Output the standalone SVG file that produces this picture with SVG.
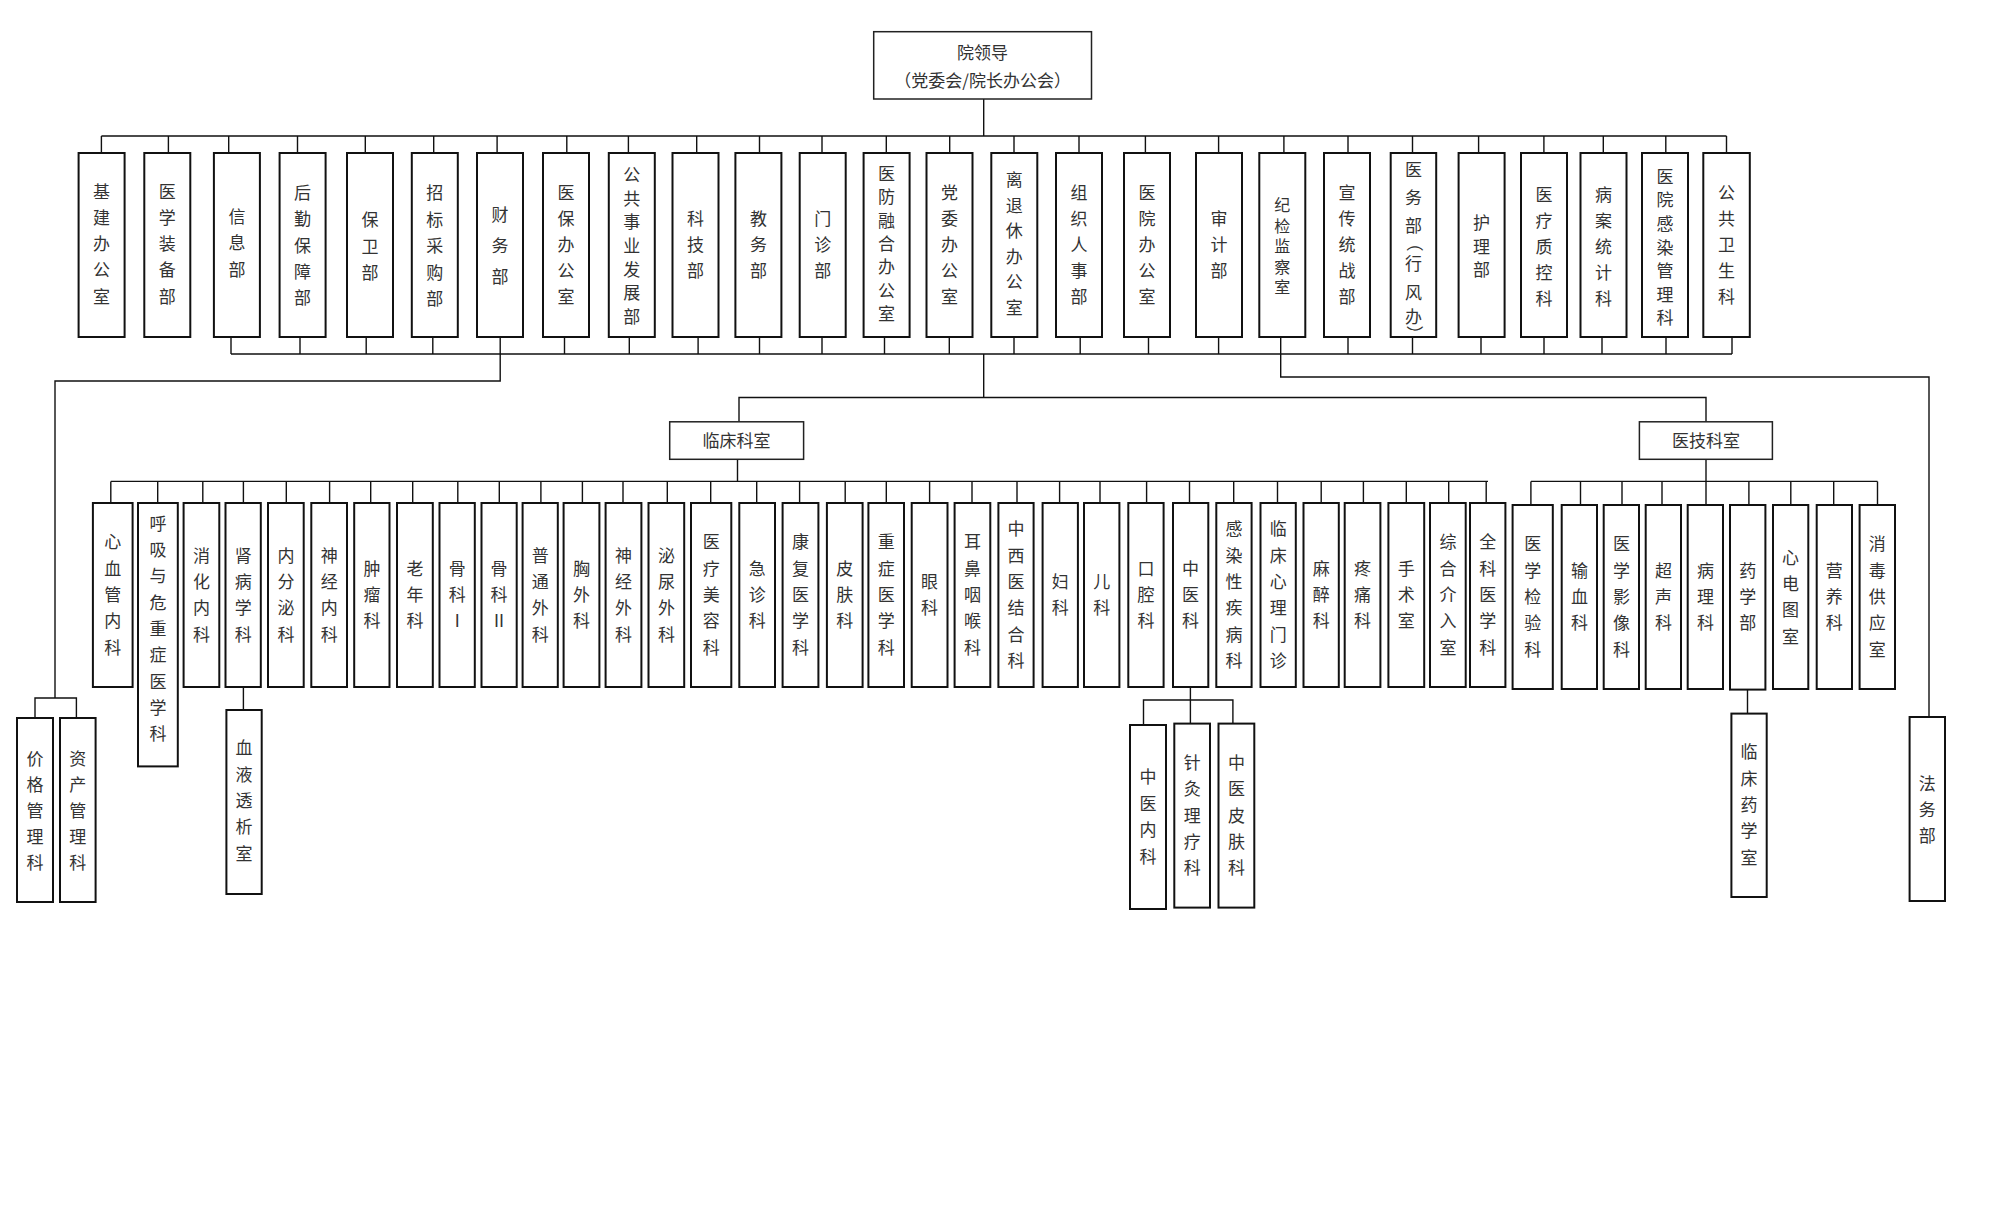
<svg xmlns="http://www.w3.org/2000/svg" width="2000" height="1210" viewBox="0 0 2000 1210">
<style>
.bx{fill:#fff;stroke:#111;stroke-width:2}
.hb{fill:#fff;stroke:#222;stroke-width:1.5}
.cn{fill:none;stroke:#111;stroke-width:1.4}
.t{font-family:"Noto Sans CJK SC","Noto Sans CJK TC",sans-serif;font-size:17px;font-weight:400;fill:#333;text-anchor:middle}
</style>
<rect width="2000" height="1210" fill="#fff"/>
<g id="connectors">
<path class="cn" d="M983.7 99V136M101.4 136H1726.5
M101.4 136V153M168.4 136V153M228.7 136V153M297.5 136V153M365.3 136V153M433.7 136V153M497.1 136V153M566.8 136V153M628.4 136V153M696.7 136V153M759.5 136V153M822 136V153M886.3 136V153M949.7 136V153M1014 136V153M1079 136V153M1145.4 136V153M1218.6 136V153M1283.9 136V153M1348 136V153M1412.5 136V153M1478.6 136V153M1543.9 136V153M1603.3 136V153M1665.8 136V153M1726.5 136V153
M231 354H1732M231 337V354M300 337V354M366.2 337V354M432.8 337V354M564.5 337V354M629.3 337V354M698.1 337V354M759.5 337V354M822 337V354M884.5 337V354M949.3 337V354M1014 337V354M1080.2 337V354M1148.5 337V354M1218.6 337V354M1348 337V354M1412.5 337V354M1481 337V354M1544 337V354M1602 337V354M1666 337V354M1732 337V354
M500.2 337V381H55V698M35 718V698H76.4V718
M1280.7 337V377H1929V717
M983.7 354V397.5M739 421.8V397.5H1706V421.8
M737.5 459.3V481.4M110.8 481.4H1488
M110.8 481.4V503M157.7 481.4V503M202.8 481.4V503M243.4 481.4V503M286.3 481.4V503M329.6 481.4V503M370.7 481.4V503M412.7 481.4V503M457.8 481.4V503M499.3 481.4V503M540.9 481.4V503M582.4 481.4V503M623 481.4V503M667.3 481.4V503M710.7 481.4V503M756.7 481.4V503M799.6 481.4V503M845.2 481.4V503M886.3 481.4V503M929.6 481.4V503M972 481.4V503M1017 481.4V503M1059.6 481.4V503M1100 481.4V503M1146.6 481.4V503M1189.5 481.4V503M1233.7 481.4V503M1277.5 481.4V503M1321.2 481.4V503M1363.4 481.4V503M1406.3 481.4V503M1448.7 481.4V503M1486.2 481.4V503
M1706 459.3V505M1530.9 481.4H1877.5M1530.9 481.4V505M1580.5 481.4V505M1622 481.4V505M1662 481.4V505M1748.9 481.4V505M1790.8 481.4V505M1833.7 481.4V505M1877.5 481.4V505
M243.4 687V710M1190.4 687V723.6M1143.5 725V700H1232.9V723.6M1747.5 689.6V713.6"/>
</g>
<g id="n-top"><rect class="hb" x="873.7" y="31.7" width="217.8" height="67.3"/><text class="t" x="982.6" y="59">院领导</text><text class="t" x="982.6" y="87">（党委会/院长办公会）</text></g>
<g id="n-jijian"><rect class="bx" x="78.6" y="153" width="46" height="184"/><text class="t"><tspan x="101.6" y="197.5">基</tspan><tspan x="101.6" y="223.8">建</tspan><tspan x="101.6" y="250">办</tspan><tspan x="101.6" y="276.3">公</tspan><tspan x="101.6" y="302.5">室</tspan></text></g>
<g id="n-yxzb"><rect class="bx" x="144.3" y="153" width="46" height="184"/><text class="t"><tspan x="167.3" y="197.5">医</tspan><tspan x="167.3" y="223.8">学</tspan><tspan x="167.3" y="250">装</tspan><tspan x="167.3" y="276.3">备</tspan><tspan x="167.3" y="302.5">部</tspan></text></g>
<g id="n-xinxi"><rect class="bx" x="213.9" y="153" width="46" height="184"/><text class="t"><tspan x="236.9" y="222.6">信</tspan><tspan x="236.9" y="249.3">息</tspan><tspan x="236.9" y="276">部</tspan></text></g>
<g id="n-houqin"><rect class="bx" x="279.6" y="153" width="46" height="184"/><text class="t"><tspan x="302.6" y="198.9">后</tspan><tspan x="302.6" y="225.2">勤</tspan><tspan x="302.6" y="251.5">保</tspan><tspan x="302.6" y="277.8">障</tspan><tspan x="302.6" y="304.1">部</tspan></text></g>
<g id="n-baowei"><rect class="bx" x="347" y="153" width="46" height="184"/><text class="t"><tspan x="370" y="226.2">保</tspan><tspan x="370" y="252.7">卫</tspan><tspan x="370" y="279.2">部</tspan></text></g>
<g id="n-zhaobiao"><rect class="bx" x="411.8" y="153" width="46" height="184"/><text class="t"><tspan x="434.8" y="199">招</tspan><tspan x="434.8" y="225.5">标</tspan><tspan x="434.8" y="252">采</tspan><tspan x="434.8" y="278.5">购</tspan><tspan x="434.8" y="305">部</tspan></text></g>
<g id="n-caiwu"><rect class="bx" x="477" y="153" width="46" height="184"/><text class="t"><tspan x="500" y="221">财</tspan><tspan x="500" y="252">务</tspan><tspan x="500" y="283">部</tspan></text></g>
<g id="n-yibao"><rect class="bx" x="543" y="153" width="46" height="184"/><text class="t"><tspan x="566" y="199">医</tspan><tspan x="566" y="225">保</tspan><tspan x="566" y="251">办</tspan><tspan x="566" y="277">公</tspan><tspan x="566" y="303">室</tspan></text></g>
<g id="n-gongshi"><rect class="bx" x="608.8" y="153" width="46" height="184"/><text class="t"><tspan x="631.8" y="181.2">公</tspan><tspan x="631.8" y="204.8">共</tspan><tspan x="631.8" y="228.4">事</tspan><tspan x="631.8" y="252">业</tspan><tspan x="631.8" y="275.6">发</tspan><tspan x="631.8" y="299.2">展</tspan><tspan x="631.8" y="322.8">部</tspan></text></g>
<g id="n-keji"><rect class="bx" x="672.5" y="153" width="46" height="184"/><text class="t"><tspan x="695.5" y="225">科</tspan><tspan x="695.5" y="251">技</tspan><tspan x="695.5" y="277">部</tspan></text></g>
<g id="n-jiaowu"><rect class="bx" x="735.4" y="153" width="46" height="184"/><text class="t"><tspan x="758.4" y="225">教</tspan><tspan x="758.4" y="251">务</tspan><tspan x="758.4" y="277">部</tspan></text></g>
<g id="n-menzhen"><rect class="bx" x="799.7" y="153" width="46" height="184"/><text class="t"><tspan x="822.7" y="225">门</tspan><tspan x="822.7" y="251">诊</tspan><tspan x="822.7" y="277">部</tspan></text></g>
<g id="n-yifang"><rect class="bx" x="863.6" y="153" width="46" height="184"/><text class="t"><tspan x="886.6" y="180.1">医</tspan><tspan x="886.6" y="203.4">防</tspan><tspan x="886.6" y="226.7">融</tspan><tspan x="886.6" y="250">合</tspan><tspan x="886.6" y="273.3">办</tspan><tspan x="886.6" y="296.6">公</tspan><tspan x="886.6" y="319.9">室</tspan></text></g>
<g id="n-dangwei"><rect class="bx" x="926.5" y="153" width="46" height="184"/><text class="t"><tspan x="949.5" y="199">党</tspan><tspan x="949.5" y="225">委</tspan><tspan x="949.5" y="251">办</tspan><tspan x="949.5" y="277">公</tspan><tspan x="949.5" y="303">室</tspan></text></g>
<g id="n-lituixiu"><rect class="bx" x="991.3" y="153" width="46" height="184"/><text class="t"><tspan x="1014.3" y="186">离</tspan><tspan x="1014.3" y="211.6">退</tspan><tspan x="1014.3" y="237.2">休</tspan><tspan x="1014.3" y="262.8">办</tspan><tspan x="1014.3" y="288.4">公</tspan><tspan x="1014.3" y="314">室</tspan></text></g>
<g id="n-zuzhi"><rect class="bx" x="1056" y="153" width="46" height="184"/><text class="t"><tspan x="1079" y="199">组</tspan><tspan x="1079" y="225">织</tspan><tspan x="1079" y="251">人</tspan><tspan x="1079" y="277">事</tspan><tspan x="1079" y="303">部</tspan></text></g>
<g id="n-yiyuanban"><rect class="bx" x="1124" y="153" width="46" height="184"/><text class="t"><tspan x="1147" y="199">医</tspan><tspan x="1147" y="225">院</tspan><tspan x="1147" y="251">办</tspan><tspan x="1147" y="277">公</tspan><tspan x="1147" y="303">室</tspan></text></g>
<g id="n-shenji"><rect class="bx" x="1196" y="153" width="46" height="184"/><text class="t"><tspan x="1219" y="225">审</tspan><tspan x="1219" y="251">计</tspan><tspan x="1219" y="277">部</tspan></text></g>
<g id="n-jijiancha"><rect class="bx" x="1259.3" y="153" width="46" height="184"/><text class="t" style="font-size:16px"><tspan x="1282.3" y="211">纪</tspan><tspan x="1282.3" y="231.5">检</tspan><tspan x="1282.3" y="252">监</tspan><tspan x="1282.3" y="272.5">察</tspan><tspan x="1282.3" y="293">室</tspan></text></g>
<g id="n-xuanchuan"><rect class="bx" x="1324" y="153" width="46" height="184"/><text class="t"><tspan x="1347" y="199">宣</tspan><tspan x="1347" y="225">传</tspan><tspan x="1347" y="251">统</tspan><tspan x="1347" y="277">战</tspan><tspan x="1347" y="303">部</tspan></text></g>
<g id="n-yiwu"><rect class="bx" x="1390.7" y="153" width="45.5" height="184"/><text class="t"><tspan x="1413.5" y="176">医</tspan><tspan x="1413.5" y="204">务</tspan><tspan x="1413.5" y="232">部</tspan></text><text class="t" x="1413.5" y="249" transform="rotate(90 1413.5 243)">（</text><text class="t"><tspan x="1413.5" y="270">行</tspan><tspan x="1413.5" y="299">风</tspan><tspan x="1413.5" y="323">办</tspan></text><text class="t" x="1413.5" y="340" transform="rotate(90 1413.5 334)">）</text></g>
<g id="n-huli"><rect class="bx" x="1458.6" y="153" width="46" height="184"/><text class="t"><tspan x="1481.6" y="229.2">护</tspan><tspan x="1481.6" y="252.7">理</tspan><tspan x="1481.6" y="276.2">部</tspan></text></g>
<g id="n-zhikong"><rect class="bx" x="1521" y="153" width="46" height="184"/><text class="t"><tspan x="1544" y="200.7">医</tspan><tspan x="1544" y="226.7">疗</tspan><tspan x="1544" y="252.7">质</tspan><tspan x="1544" y="278.7">控</tspan><tspan x="1544" y="304.7">科</tspan></text></g>
<g id="n-bingan"><rect class="bx" x="1580.5" y="153" width="46" height="184"/><text class="t"><tspan x="1603.5" y="200.7">病</tspan><tspan x="1603.5" y="226.7">案</tspan><tspan x="1603.5" y="252.7">统</tspan><tspan x="1603.5" y="278.7">计</tspan><tspan x="1603.5" y="304.7">科</tspan></text></g>
<g id="n-ganran"><rect class="bx" x="1642" y="153" width="46" height="184"/><text class="t"><tspan x="1665" y="182.7">医</tspan><tspan x="1665" y="206.3">院</tspan><tspan x="1665" y="229.9">感</tspan><tspan x="1665" y="253.5">染</tspan><tspan x="1665" y="277.1">管</tspan><tspan x="1665" y="300.7">理</tspan><tspan x="1665" y="324.3">科</tspan></text></g>
<g id="n-gongwei"><rect class="bx" x="1703.3" y="153" width="46.5" height="184"/><text class="t"><tspan x="1726.5" y="199">公</tspan><tspan x="1726.5" y="225">共</tspan><tspan x="1726.5" y="251">卫</tspan><tspan x="1726.5" y="277">生</tspan><tspan x="1726.5" y="303">科</tspan></text></g>
<g id="n-jiage"><rect class="bx" x="17" y="718" width="36" height="184"/><text class="t"><tspan x="35" y="765">价</tspan><tspan x="35" y="791">格</tspan><tspan x="35" y="817">管</tspan><tspan x="35" y="843">理</tspan><tspan x="35" y="869">科</tspan></text></g>
<g id="n-zichan"><rect class="bx" x="60" y="718" width="35.6" height="184"/><text class="t"><tspan x="77.8" y="765">资</tspan><tspan x="77.8" y="791">产</tspan><tspan x="77.8" y="817">管</tspan><tspan x="77.8" y="843">理</tspan><tspan x="77.8" y="869">科</tspan></text></g>
<g id="n-fawu"><rect class="bx" x="1909.6" y="717" width="35.4" height="184"/><text class="t"><tspan x="1927.3" y="790">法</tspan><tspan x="1927.3" y="816">务</tspan><tspan x="1927.3" y="842">部</tspan></text></g>
<g id="n-linchuang"><rect class="hb" x="669.7" y="421.8" width="133.9" height="37.5"/><text class="t" x="736.6" y="446.5">临床科室</text></g>
<g id="n-yiji"><rect class="hb" x="1639.4" y="421.8" width="133" height="37.5"/><text class="t" x="1706" y="446.5">医技科室</text></g>
<g id="n-xinxueguan"><rect class="bx" x="92.9" y="503" width="39.7" height="184"/><text class="t"><tspan x="112.8" y="548.4">心</tspan><tspan x="112.8" y="574.7">血</tspan><tspan x="112.8" y="601">管</tspan><tspan x="112.8" y="627.3">内</tspan><tspan x="112.8" y="653.6">科</tspan></text></g>
<g id="n-huxi"><rect class="bx" x="138" y="503" width="39.8" height="263.4"/><text class="t"><tspan x="157.9" y="529.6">呼</tspan><tspan x="157.9" y="555.9">吸</tspan><tspan x="157.9" y="582.3">与</tspan><tspan x="157.9" y="608.6">危</tspan><tspan x="157.9" y="635">重</tspan><tspan x="157.9" y="661.3">症</tspan><tspan x="157.9" y="687.6">医</tspan><tspan x="157.9" y="714">学</tspan><tspan x="157.9" y="740.3">科</tspan></text></g>
<g id="n-xiaohua"><rect class="bx" x="183.6" y="503" width="35.7" height="184"/><text class="t"><tspan x="201.5" y="561.6">消</tspan><tspan x="201.5" y="587.9">化</tspan><tspan x="201.5" y="614.2">内</tspan><tspan x="201.5" y="640.5">科</tspan></text></g>
<g id="n-shenbing"><rect class="bx" x="225.5" y="503" width="35.3" height="184"/><text class="t"><tspan x="243.2" y="561.6">肾</tspan><tspan x="243.2" y="587.9">病</tspan><tspan x="243.2" y="614.2">学</tspan><tspan x="243.2" y="640.5">科</tspan></text></g>
<g id="n-xueye"><rect class="bx" x="226.4" y="710" width="35.3" height="184"/><text class="t"><tspan x="244" y="754.4">血</tspan><tspan x="244" y="780.7">液</tspan><tspan x="244" y="807">透</tspan><tspan x="244" y="833.3">析</tspan><tspan x="244" y="859.6">室</tspan></text></g>
<g id="n-neifenmi"><rect class="bx" x="268" y="503" width="35.7" height="184"/><text class="t"><tspan x="285.9" y="561.6">内</tspan><tspan x="285.9" y="587.9">分</tspan><tspan x="285.9" y="614.2">泌</tspan><tspan x="285.9" y="640.5">科</tspan></text></g>
<g id="n-shenjingnei"><rect class="bx" x="311.3" y="503" width="35.7" height="184"/><text class="t"><tspan x="329.2" y="561.6">神</tspan><tspan x="329.2" y="587.9">经</tspan><tspan x="329.2" y="614.2">内</tspan><tspan x="329.2" y="640.5">科</tspan></text></g>
<g id="n-zhongliu"><rect class="bx" x="354.2" y="503" width="35.3" height="184"/><text class="t"><tspan x="371.9" y="574.7">肿</tspan><tspan x="371.9" y="601">瘤</tspan><tspan x="371.9" y="627.3">科</tspan></text></g>
<g id="n-laonian"><rect class="bx" x="397" y="503" width="35.8" height="184"/><text class="t"><tspan x="414.9" y="574.7">老</tspan><tspan x="414.9" y="601">年</tspan><tspan x="414.9" y="627.3">科</tspan></text></g>
<g id="n-guke1"><rect class="bx" x="439.5" y="503" width="35.3" height="184"/><text class="t"><tspan x="457.2" y="574.7">骨</tspan><tspan x="457.2" y="601">科</tspan><tspan x="457.2" y="627.3">Ⅰ</tspan></text></g>
<g id="n-guke2"><rect class="bx" x="481.5" y="503" width="35.2" height="184"/><text class="t"><tspan x="499.1" y="574.7">骨</tspan><tspan x="499.1" y="601">科</tspan><tspan x="499.1" y="627.3">Ⅱ</tspan></text></g>
<g id="n-putong"><rect class="bx" x="522.6" y="503" width="35.2" height="184"/><text class="t"><tspan x="540.2" y="561.6">普</tspan><tspan x="540.2" y="587.9">通</tspan><tspan x="540.2" y="614.2">外</tspan><tspan x="540.2" y="640.5">科</tspan></text></g>
<g id="n-xiongwai"><rect class="bx" x="563.6" y="503" width="35.8" height="184"/><text class="t"><tspan x="581.5" y="574.7">胸</tspan><tspan x="581.5" y="601">外</tspan><tspan x="581.5" y="627.3">科</tspan></text></g>
<g id="n-shenjingwai"><rect class="bx" x="605.6" y="503" width="35.8" height="184"/><text class="t"><tspan x="623.5" y="561.6">神</tspan><tspan x="623.5" y="587.9">经</tspan><tspan x="623.5" y="614.2">外</tspan><tspan x="623.5" y="640.5">科</tspan></text></g>
<g id="n-miniao"><rect class="bx" x="648.5" y="503" width="35.7" height="184"/><text class="t"><tspan x="666.4" y="561.6">泌</tspan><tspan x="666.4" y="587.9">尿</tspan><tspan x="666.4" y="614.2">外</tspan><tspan x="666.4" y="640.5">科</tspan></text></g>
<g id="n-meirong"><rect class="bx" x="691" y="503" width="40.3" height="184"/><text class="t"><tspan x="711.2" y="548.4">医</tspan><tspan x="711.2" y="574.7">疗</tspan><tspan x="711.2" y="601">美</tspan><tspan x="711.2" y="627.3">容</tspan><tspan x="711.2" y="653.6">科</tspan></text></g>
<g id="n-jizhen"><rect class="bx" x="739.3" y="503" width="35.7" height="184"/><text class="t"><tspan x="757.2" y="574.7">急</tspan><tspan x="757.2" y="601">诊</tspan><tspan x="757.2" y="627.3">科</tspan></text></g>
<g id="n-kangfu"><rect class="bx" x="782.6" y="503" width="35.8" height="184"/><text class="t"><tspan x="800.5" y="548.4">康</tspan><tspan x="800.5" y="574.7">复</tspan><tspan x="800.5" y="601">医</tspan><tspan x="800.5" y="627.3">学</tspan><tspan x="800.5" y="653.6">科</tspan></text></g>
<g id="n-pifu"><rect class="bx" x="826.9" y="503" width="35.7" height="184"/><text class="t"><tspan x="844.8" y="574.7">皮</tspan><tspan x="844.8" y="601">肤</tspan><tspan x="844.8" y="627.3">科</tspan></text></g>
<g id="n-zhongzheng"><rect class="bx" x="868.4" y="503" width="35.6" height="184"/><text class="t"><tspan x="886.2" y="548.4">重</tspan><tspan x="886.2" y="574.7">症</tspan><tspan x="886.2" y="601">医</tspan><tspan x="886.2" y="627.3">学</tspan><tspan x="886.2" y="653.6">科</tspan></text></g>
<g id="n-yanke"><rect class="bx" x="911.7" y="503" width="35.8" height="184"/><text class="t"><tspan x="929.6" y="587.9">眼</tspan><tspan x="929.6" y="614.2">科</tspan></text></g>
<g id="n-erbi"><rect class="bx" x="954.6" y="503" width="35.7" height="184"/><text class="t"><tspan x="972.5" y="548.4">耳</tspan><tspan x="972.5" y="574.7">鼻</tspan><tspan x="972.5" y="601">咽</tspan><tspan x="972.5" y="627.3">喉</tspan><tspan x="972.5" y="653.6">科</tspan></text></g>
<g id="n-zhongxi"><rect class="bx" x="998.4" y="503" width="35.2" height="184"/><text class="t"><tspan x="1016" y="535.3">中</tspan><tspan x="1016" y="561.6">西</tspan><tspan x="1016" y="587.9">医</tspan><tspan x="1016" y="614.2">结</tspan><tspan x="1016" y="640.5">合</tspan><tspan x="1016" y="666.8">科</tspan></text></g>
<g id="n-fuke"><rect class="bx" x="1042.6" y="503" width="35.3" height="184"/><text class="t"><tspan x="1060.2" y="587.9">妇</tspan><tspan x="1060.2" y="614.2">科</tspan></text></g>
<g id="n-erke"><rect class="bx" x="1084" y="503" width="35.4" height="184"/><text class="t"><tspan x="1101.7" y="587.9">儿</tspan><tspan x="1101.7" y="614.2">科</tspan></text></g>
<g id="n-kouqiang"><rect class="bx" x="1128.3" y="503" width="35.3" height="184"/><text class="t"><tspan x="1146" y="574.7">口</tspan><tspan x="1146" y="601">腔</tspan><tspan x="1146" y="627.3">科</tspan></text></g>
<g id="n-zhongyi"><rect class="bx" x="1173" y="503" width="35.3" height="184"/><text class="t"><tspan x="1190.6" y="574.7">中</tspan><tspan x="1190.6" y="601">医</tspan><tspan x="1190.6" y="627.3">科</tspan></text></g>
<g id="n-zhongyinei"><rect class="bx" x="1130" y="725" width="36" height="184"/><text class="t"><tspan x="1148" y="783.3">中</tspan><tspan x="1148" y="809.8">医</tspan><tspan x="1148" y="836.3">内</tspan><tspan x="1148" y="862.8">科</tspan></text></g>
<g id="n-zhenjiu"><rect class="bx" x="1174.3" y="723.6" width="35.7" height="184"/><text class="t"><tspan x="1192.2" y="768.9">针</tspan><tspan x="1192.2" y="795.2">灸</tspan><tspan x="1192.2" y="821.5">理</tspan><tspan x="1192.2" y="847.8">疗</tspan><tspan x="1192.2" y="874.1">科</tspan></text></g>
<g id="n-zhongyipifu"><rect class="bx" x="1218.5" y="723.6" width="35.8" height="184"/><text class="t"><tspan x="1236.4" y="768.9">中</tspan><tspan x="1236.4" y="795.2">医</tspan><tspan x="1236.4" y="821.5">皮</tspan><tspan x="1236.4" y="847.8">肤</tspan><tspan x="1236.4" y="874.1">科</tspan></text></g>
<g id="n-ganranxing"><rect class="bx" x="1216.3" y="503" width="35.3" height="184"/><text class="t"><tspan x="1234" y="535.3">感</tspan><tspan x="1234" y="561.6">染</tspan><tspan x="1234" y="587.9">性</tspan><tspan x="1234" y="614.2">疾</tspan><tspan x="1234" y="640.5">病</tspan><tspan x="1234" y="666.8">科</tspan></text></g>
<g id="n-xinli"><rect class="bx" x="1260.5" y="503" width="35.3" height="184"/><text class="t"><tspan x="1278.2" y="535.3">临</tspan><tspan x="1278.2" y="561.6">床</tspan><tspan x="1278.2" y="587.9">心</tspan><tspan x="1278.2" y="614.2">理</tspan><tspan x="1278.2" y="640.5">门</tspan><tspan x="1278.2" y="666.8">诊</tspan></text></g>
<g id="n-mazui"><rect class="bx" x="1303.5" y="503" width="35.3" height="184"/><text class="t"><tspan x="1321.2" y="574.7">麻</tspan><tspan x="1321.2" y="601">醉</tspan><tspan x="1321.2" y="627.3">科</tspan></text></g>
<g id="n-tengtong"><rect class="bx" x="1344.7" y="503" width="35.7" height="184"/><text class="t"><tspan x="1362.6" y="574.7">疼</tspan><tspan x="1362.6" y="601">痛</tspan><tspan x="1362.6" y="627.3">科</tspan></text></g>
<g id="n-shoushu"><rect class="bx" x="1388.4" y="503" width="35.8" height="184"/><text class="t"><tspan x="1406.3" y="574.7">手</tspan><tspan x="1406.3" y="601">术</tspan><tspan x="1406.3" y="627.3">室</tspan></text></g>
<g id="n-jieru"><rect class="bx" x="1430" y="503" width="35.7" height="184"/><text class="t"><tspan x="1447.9" y="548.4">综</tspan><tspan x="1447.9" y="574.7">合</tspan><tspan x="1447.9" y="601">介</tspan><tspan x="1447.9" y="627.3">入</tspan><tspan x="1447.9" y="653.6">室</tspan></text></g>
<g id="n-quanke"><rect class="bx" x="1470" y="503" width="35.4" height="184"/><text class="t"><tspan x="1487.7" y="548.4">全</tspan><tspan x="1487.7" y="574.7">科</tspan><tspan x="1487.7" y="601">医</tspan><tspan x="1487.7" y="627.3">学</tspan><tspan x="1487.7" y="653.6">科</tspan></text></g>
<g id="n-jianyan"><rect class="bx" x="1512.6" y="505" width="40.2" height="184"/><text class="t"><tspan x="1532.7" y="550.4">医</tspan><tspan x="1532.7" y="576.7">学</tspan><tspan x="1532.7" y="603">检</tspan><tspan x="1532.7" y="629.3">验</tspan><tspan x="1532.7" y="655.6">科</tspan></text></g>
<g id="n-shuxue"><rect class="bx" x="1561.7" y="505" width="35.3" height="184"/><text class="t"><tspan x="1579.4" y="576.7">输</tspan><tspan x="1579.4" y="603">血</tspan><tspan x="1579.4" y="629.3">科</tspan></text></g>
<g id="n-yingxiang"><rect class="bx" x="1603.7" y="505" width="35.3" height="184"/><text class="t"><tspan x="1621.4" y="550.4">医</tspan><tspan x="1621.4" y="576.7">学</tspan><tspan x="1621.4" y="603">影</tspan><tspan x="1621.4" y="629.3">像</tspan><tspan x="1621.4" y="655.6">科</tspan></text></g>
<g id="n-chaosheng"><rect class="bx" x="1645.7" y="505" width="35.3" height="184"/><text class="t"><tspan x="1663.4" y="576.7">超</tspan><tspan x="1663.4" y="603">声</tspan><tspan x="1663.4" y="629.3">科</tspan></text></g>
<g id="n-bingli"><rect class="bx" x="1687.7" y="505" width="35.3" height="184"/><text class="t"><tspan x="1705.4" y="576.7">病</tspan><tspan x="1705.4" y="603">理</tspan><tspan x="1705.4" y="629.3">科</tspan></text></g>
<g id="n-yaoxue"><rect class="bx" x="1730" y="505" width="35.4" height="184.6"/><text class="t"><tspan x="1747.7" y="576.7">药</tspan><tspan x="1747.7" y="603">学</tspan><tspan x="1747.7" y="629.3">部</tspan></text></g>
<g id="n-linchuangyao"><rect class="bx" x="1731.4" y="713.6" width="35.3" height="183.4"/><text class="t"><tspan x="1749" y="758.4">临</tspan><tspan x="1749" y="784.7">床</tspan><tspan x="1749" y="811">药</tspan><tspan x="1749" y="837.3">学</tspan><tspan x="1749" y="863.6">室</tspan></text></g>
<g id="n-xindian"><rect class="bx" x="1773" y="505" width="35.3" height="184"/><text class="t"><tspan x="1790.6" y="563.6">心</tspan><tspan x="1790.6" y="589.9">电</tspan><tspan x="1790.6" y="616.2">图</tspan><tspan x="1790.6" y="642.5">室</tspan></text></g>
<g id="n-yingyang"><rect class="bx" x="1816.7" y="505" width="35.3" height="184"/><text class="t"><tspan x="1834.3" y="576.7">营</tspan><tspan x="1834.3" y="603">养</tspan><tspan x="1834.3" y="629.3">科</tspan></text></g>
<g id="n-xiaodu"><rect class="bx" x="1859.6" y="505" width="35.4" height="184"/><text class="t"><tspan x="1877.3" y="550.4">消</tspan><tspan x="1877.3" y="576.7">毒</tspan><tspan x="1877.3" y="603">供</tspan><tspan x="1877.3" y="629.3">应</tspan><tspan x="1877.3" y="655.6">室</tspan></text></g>
</svg>
